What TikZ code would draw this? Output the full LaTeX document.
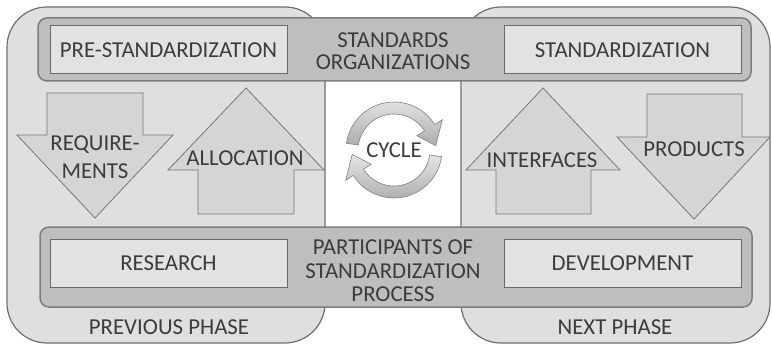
\documentclass[tikz,border=0pt]{standalone}
\usepackage{fontspec}
\setmainfont{Carlito}
\usetikzlibrary{calc}
\definecolor{phasegray}{RGB}{223,223,223}
\definecolor{phaseline}{RGB}{110,110,110}
\definecolor{bandgray}{RGB}{190,190,190}
\definecolor{bandline}{RGB}{125,125,125}
\definecolor{boxgray}{RGB}{226,226,226}
\definecolor{boxline}{RGB}{105,105,105}
\definecolor{arrowgray}{RGB}{213,213,213}
\definecolor{arrowline}{RGB}{120,120,120}
\definecolor{textgray}{RGB}{60,60,60}

\begin{document}
\begin{tikzpicture}[x=1pt,y=-1pt,
	phase/.style={draw=phaseline, fill=phasegray, line width=1.2pt, rounded corners=40pt},
	band/.style={draw=bandline, fill=bandgray, line width=1.5pt, rounded corners=9pt},
	stagebox/.style={draw=boxline, fill=boxgray, line width=1pt, minimum width=237pt, minimum height=48pt, text=textgray, font=\fontsize{22.8}{23}\selectfont},
	bigarrow/.style={draw=arrowline, fill=arrowgray, line width=0.8pt},
	cyclearrow/.style={draw=gray, line width=0.6pt, top color=gray!20, bottom color=gray!65},
	lbl/.style={text=textgray, font=\fontsize{22.8}{22}\selectfont, align=center, inner sep=0pt}]
	%%Frame
	\useasboundingbox (0,0) rectangle (772,345);
	%%Phases
	\draw[phase] (7,7) rectangle (325,343);
	\draw[phase] (461,7) rectangle (770,343);
	\fill[white] (325.6,60) rectangle (460.4,250);
	%%Bands
	\draw[band] (38,18) rectangle (751,81);
	\draw[band] (40,227) rectangle (752,307);
	\node[stagebox] (prestd) at (168.5,50) {PRE-STANDARDIZATION};
	\node[stagebox] (std) at (622.5,50) {STANDARDIZATION};
	\node[stagebox] (research) at (168.5,263.5) {RESEARCH};
	\node[stagebox] (devel) at (622.5,263.5) {DEVELOPMENT};
	\node[lbl] (stdorg) at (393,51) {STANDARDS\\ORGANIZATIONS};
	\node[lbl, font=\fontsize{22.8}{23.5}\selectfont] (partic) at (393,271) {PARTICIPANTS OF\\STANDARDIZATION\\PROCESS};
	%%Arrows
	\draw[bigarrow] (47,93) -- (143,93) -- (143,135) -- (173,135) -- (95,218) -- (17,135) -- (47,135) -- cycle;
	\draw[bigarrow] (246,88) -- (324,170) -- (294,170) -- (294,214) -- (198,214) -- (198,170) -- (168,170) -- cycle;
	\draw[bigarrow] (543,88) -- (620,170) -- (591,170) -- (591,214) -- (496,214) -- (496,170) -- (466,170) -- cycle;
	\draw[bigarrow] (647,94) -- (742,94) -- (742,137) -- (770,137) -- (694,219) -- (617,137) -- (647,137) -- cycle;
	\node[lbl, font=\fontsize{22.8}{28}\selectfont] (req) at (95,157) {REQUIRE-\\MENTS};
	\node[lbl] (alloc) at (245,158) {ALLOCATION};
	\node[lbl] (intf) at (542,160) {INTERFACES};
	\node[lbl] (prod) at (694,149) {PRODUCTS};
	%%Cycle
	\coordinate (cyc) at (394,150);
	\draw[cyclearrow] ($(cyc)+(-172:48)$) arc[start angle=-172, end angle=-32, radius=48]
		-- ($(cyc)+(-32:57)$) -- ($(cyc)+(-6:42)$) -- ($(cyc)+(-32:27)$)
		-- ($(cyc)+(-32:36)$) arc[start angle=-32, end angle=-172, radius=36] -- cycle;
	\draw[cyclearrow] ($(cyc)+(8:48)$) arc[start angle=8, end angle=148, radius=48]
		-- ($(cyc)+(148:57)$) -- ($(cyc)+(174:42)$) -- ($(cyc)+(148:27)$)
		-- ($(cyc)+(148:36)$) arc[start angle=148, end angle=8, radius=36] -- cycle;
	\node[lbl] (cycle) at (cyc) {CYCLE};
	%%Label
	\node[lbl] (prev) at (169,327) {PREVIOUS PHASE};
	\node[lbl] (next) at (615,327) {NEXT PHASE};
\end{tikzpicture}
\end{document}
